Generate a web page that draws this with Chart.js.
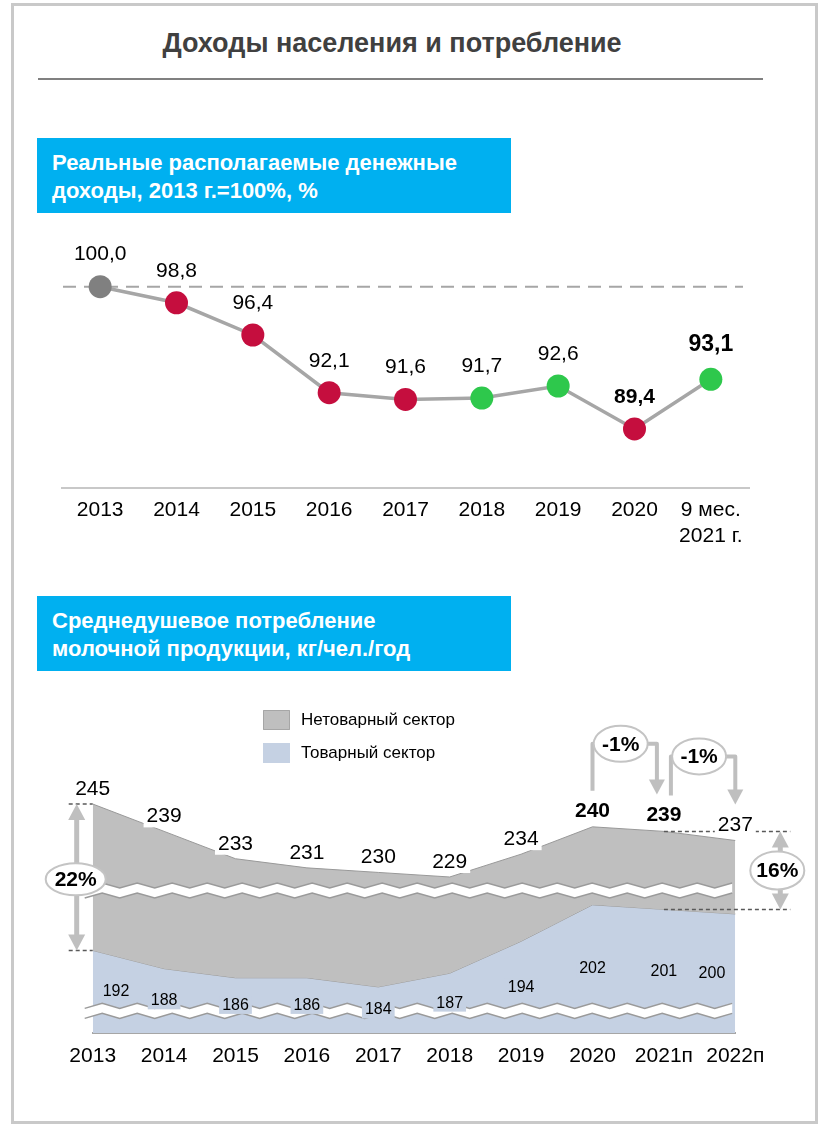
<!DOCTYPE html>
<html lang="ru">
<head>
<meta charset="utf-8">
<title>Доходы населения и потребление</title>
<script src="https://cdn.jsdelivr.net/npm/chart.js@4.4.1/dist/chart.umd.min.js"></script>
<style>
  body { margin: 0; background: #fff; font-family: 'Liberation Sans', Arial, sans-serif; }
  #page { position: relative; width: 819px; height: 1125px; overflow: hidden; }
  .frame { position: absolute; left: 11px; top: 3px; width: 801px; height: 1115px; border: 3px solid #c9c9c9; }
  .title { position: absolute; left: 0; top: 28px; width: 784px; text-align: center; font-weight: bold;
           font-size: 27px; line-height: 30px; color: #404040; }
  .rule { position: absolute; left: 38px; top: 78px; width: 725px; height: 2px; background: #808080; }
  .head { position: absolute; left: 37px; width: 459px; height: 64px; padding: 11px 0 0 15px; background: #00b0f0;
          color: #fff; font-weight: bold; font-size: 22px; line-height: 28px; }
  canvas { position: absolute; left: 0; }
</style>
</head>
<body>
<div id="page">
  <div class="frame"></div>
  <div class="title">Доходы населения и потребление</div>
  <div class="rule"></div>
  <div class="head" style="top:138px">Реальные располагаемые денежные<br>доходы, 2013 г.=100%, %</div>
  <canvas id="incomeChart" width="819" height="340" style="top:220px"></canvas>
  <div class="head" style="top:596px">Среднедушевое потребление<br>молочной продукции, кг/чел./год</div>
  <canvas id="milkChart" width="819" height="390" style="top:690px"></canvas>
</div>
<script>
const FONT = "'Liberation Sans', Arial, sans-serif";

// доходы
const incomeYears = ['2013', '2014', '2015', '2016', '2017', '2018', '2019', '2020', ['9 мес.', '2021 г.']];
const incomeValues = [100.0, 98.8, 96.4, 92.1, 91.6, 91.7, 92.6, 89.4, 93.1];
const incomeBase = 100;

// потребление молочной продукции
const milkYears = ['2013', '2014', '2015', '2016', '2017', '2018', '2019', '2020', '2021п', '2022п'];
const milkTotal = [245, 239, 233, 231, 230, 229, 234, 240, 239, 237];
const milkCommodity = [192, 188, 186, 186, 184, 187, 194, 202, 201, 200];
const shareLabels = ['22%', '16%'];
const changeLabels = ['-1%', '-1%'];

const fmt = v => v.toFixed(1).replace('.', ',');

// red = fall, green = growth, first year grey
const pointColors = incomeValues.map((v, i) =>
  i === 0 ? '#808080' : (v < incomeValues[i - 1] ? '#c50e3e' : '#2ec84c'));

// linear scale with broken (compressed) ranges
class BrokenScale extends Chart.LinearScale {
  static id = 'broken';
  static defaults = Chart.LinearScale.defaults;

  toUnits(v) {
    const p = this.options.pieces;
    for (let i = 1; i < p.length; i++) {
      if (v <= p[i][0] || i === p.length - 1) {
        const [v0, u0] = p[i - 1], [v1, u1] = p[i];
        return u0 + (v - v0) * (u1 - u0) / (v1 - v0);
      }
    }
    return 0;
  }
  getPixelForValue(value) {
    return this.getPixelForDecimal(this.toUnits(value) / this.toUnits(this.max));
  }
  getValueForPixel(pixel) {
    const u = this.getDecimalForPixel(pixel) * this.toUnits(this.max);
    const p = this.options.pieces;
    for (let i = 1; i < p.length; i++) {
      if (u <= p[i][1] || i === p.length - 1) {
        const [v0, u0] = p[i - 1], [v1, u1] = p[i];
        return v0 + (u - u0) * (v1 - v0) / (u1 - u0);
      }
    }
    return 0;
  }
}
Chart.register(BrokenScale);

const incomeDecor = {
  id: 'incomeDecor',
  beforeDatasetsDraw(chart) {
    const { ctx, chartArea, scales: { y } } = chart;
    const yy = y.getPixelForValue(incomeBase);
    ctx.save();
    ctx.setLineDash([13, 8]);
    ctx.strokeStyle = '#a6a6a6';
    ctx.lineWidth = 2;
    ctx.beginPath();
    ctx.moveTo(chartArea.left + 1, yy);
    ctx.lineTo(chartArea.right - 6, yy);
    ctx.stroke();
    ctx.restore();
  },
  afterDatasetsDraw(chart) {
    const { ctx } = chart;
    const pts = chart.getDatasetMeta(0).data;
    ctx.save();
    ctx.fillStyle = '#000';
    ctx.textAlign = 'center';
    ctx.textBaseline = 'middle';
    pts.forEach((p, i) => {
      const last = i === pts.length - 1;
      const bold = i >= pts.length - 2;
      ctx.font = (bold ? 'bold ' : '') + (last ? 23 : 21) + 'px ' + FONT;
      ctx.fillText(fmt(incomeValues[i]), p.x, p.y - (last ? 35 : 32));
    });
    ctx.restore();
  }
};

new Chart(document.getElementById('incomeChart'), {
  type: 'line',
  data: {
    labels: incomeYears,
    datasets: [{
      data: incomeValues,
      borderColor: '#a6a6a6',
      borderWidth: 3.5,
      tension: 0,
      pointRadius: 11.5,
      pointHoverRadius: 11.5,
      pointBorderWidth: 0,
      pointBackgroundColor: pointColors
    }]
  },
  options: {
    responsive: false,
    animation: false,
    events: [],
    layout: { padding: { left: 62, right: 70, top: 13, bottom: 0 } },
    plugins: { legend: { display: false }, tooltip: { enabled: false } },
    scales: {
      x: {
        offset: true,
        grid: { display: false },
        border: { color: '#c8c8c8', width: 2 },
        ticks: { color: '#000', padding: 2, autoSkip: false, maxRotation: 0,
                 font: { family: FONT, size: 21, lineHeight: 1.2 } },
        afterFit(s) { s.height = 72; }
      },
      y: { display: false, min: 85, max: 104 }
    }
  },
  plugins: [incomeDecor]
});

// helpers for the second chart
function zigzag(ctx, x0, x1, c) {
  const top = [], bot = [];
  for (let x = x0, k = 0; x <= x1 + 0.1; x += 17.5, k++) {
    const a = k % 2 === 0 ? 5 : 0;
    top.push([x, c - 8 + a]);
    bot.push([x, c + 2 + a]);
  }
  ctx.beginPath();
  top.forEach(([x, y], i) => i ? ctx.lineTo(x, y) : ctx.moveTo(x, y));
  bot.slice().reverse().forEach(([x, y]) => ctx.lineTo(x, y));
  ctx.closePath();
  ctx.fillStyle = '#fff';
  ctx.fill();
  ctx.strokeStyle = '#9a9a9a';
  ctx.lineWidth = 1.5;
  [top, bot].forEach(line => {
    ctx.beginPath();
    line.forEach(([x, y], i) => i ? ctx.lineTo(x, y) : ctx.moveTo(x, y));
    ctx.stroke();
  });
}

function boxedText(ctx, text, x, y, font, bg, h, align) {
  ctx.font = font;
  const w = ctx.measureText(text).width;
  const left = align === 'left' ? x : align === 'right' ? x - w : x - w / 2;
  if (bg) {
    ctx.fillStyle = bg;
    ctx.fillRect(left - 3, y - h / 2, w + 6, h);
  }
  ctx.fillStyle = '#000';
  ctx.textAlign = align;
  ctx.textBaseline = 'middle';
  ctx.fillText(text, x, y);
}

function dashed(ctx, x0, x1, y) {
  ctx.save();
  ctx.setLineDash([4, 3]);
  ctx.strokeStyle = '#595959';
  ctx.lineWidth = 1.5;
  ctx.beginPath();
  ctx.moveTo(x0, y);
  ctx.lineTo(x1, y);
  ctx.stroke();
  ctx.restore();
}

function arrowHead(ctx, x, tipY, hw, h, dir) {
  ctx.beginPath();
  ctx.moveTo(x, tipY);
  ctx.lineTo(x - hw, tipY + dir * h);
  ctx.lineTo(x + hw, tipY + dir * h);
  ctx.closePath();
  ctx.fill();
}

function doubleArrow(ctx, x, y0, y1) {
  ctx.strokeStyle = ctx.fillStyle = '#bfbfbf';
  ctx.lineWidth = 5;
  ctx.beginPath();
  ctx.moveTo(x, y0 + 14);
  ctx.lineTo(x, y1 - 14);
  ctx.stroke();
  arrowHead(ctx, x, y0, 8.5, 16, 1);
  arrowHead(ctx, x, y1, 8.5, 16, -1);
}

function bubble(ctx, text, cx, cy, rx, ry) {
  ctx.beginPath();
  ctx.ellipse(cx, cy, rx, ry, 0, 0, Math.PI * 2);
  ctx.fillStyle = '#fff';
  ctx.fill();
  ctx.strokeStyle = '#c4c4c4';
  ctx.lineWidth = 2;
  ctx.stroke();
  ctx.fillStyle = '#000';
  ctx.font = 'bold 21px ' + FONT;
  ctx.textAlign = 'center';
  ctx.textBaseline = 'middle';
  ctx.fillText(text, cx, cy + 1);
}

const milkDecor = {
  id: 'milkDecor',
  afterDatasetsDraw(chart) {
    const { ctx, chartArea, scales: { x, y } } = chart;
    const px = i => x.getPixelForValue(i);
    const py = v => y.getPixelForValue(v);
    const base = py(0);
    const n = milkYears.length;
    const topY = i => py(milkTotal[i]) - (i === 7 || i === 8 ? 16 : 15);
    ctx.save();

    // axis breaks
    y.options.breaks.forEach(v => zigzag(ctx, chartArea.left - 8, chartArea.right + 10, py(v)));

    // guides for the shares
    dashed(ctx, px(0) - 24, px(0), py(milkTotal[0]));
    dashed(ctx, px(0) - 24, px(0), py(milkCommodity[0]));
    dashed(ctx, px(n - 2), px(n - 1) + 55, py(milkTotal[n - 2]));
    dashed(ctx, px(n - 2), px(n - 1) + 55, py(milkCommodity[n - 2]));

    // totals
    milkTotal.forEach((v, i) => {
      const bold = i === 7 || i === 8;
      boxedText(ctx, String(v), px(i), topY(i), (bold ? 'bold ' : '') + '21px ' + FONT, '#fff', 22, 'center');
    });
    // commodity sector
    milkCommodity.forEach((v, i) => {
      const ly = (py(v) + base) / 2;
      let lx = px(i), align = 'center';
      if (i === 0) { lx += 10; align = 'left'; }
      if (i === n - 1) { lx -= 10; align = 'right'; }
      boxedText(ctx, String(v), lx, ly, '16px ' + FONT, '#c5d1e3', 17, align);
    });

    // shares
    const y0a = py(milkTotal[0]), y0b = py(milkCommodity[0]);
    doubleArrow(ctx, px(0) - 16, y0a, y0b);
    bubble(ctx, shareLabels[0], px(0) - 17, (y0a + y0b) / 2 + 2, 30, 16);
    const y1a = py(milkTotal[n - 2]), y1b = py(milkCommodity[n - 2]);
    doubleArrow(ctx, px(n - 1) + 45, y1a, y1b);
    bubble(ctx, shareLabels[1], px(n - 1) + 42, (y1a + y1b) / 2, 27, 19);

    // year-on-year changes
    changeLabels.forEach((t, k) => {
      const i = n - 3 + k;
      const xl = px(i) + (k === 1 ? 7 : 0);
      const xr = px(i + 1) - (k === 0 ? 7 : 0);
      const yb = topY(i) - (k === 0 ? 67 : 59);
      const cx = (xl + xr) / 2 - 4;
      ctx.strokeStyle = ctx.fillStyle = '#bfbfbf';
      ctx.lineWidth = 4;
      ctx.lineJoin = 'round';
      ctx.beginPath();
      ctx.moveTo(xl, topY(i) - 20);
      ctx.lineTo(xl, yb);
      ctx.lineTo(cx, yb);
      ctx.stroke();
      const tip = topY(i + 1) - 21;
      ctx.beginPath();
      ctx.moveTo(cx, yb);
      ctx.lineTo(xr, yb);
      ctx.lineTo(xr, tip - 12);
      ctx.stroke();
      arrowHead(ctx, xr, tip, 8, 15, -1);
      bubble(ctx, t, cx, yb, 27, 18);
    });

    // legend
    chart.data.datasets.forEach((ds, i) => {
      const top = 20 + i * 33;
      ctx.fillStyle = ds.backgroundColor;
      ctx.fillRect(263, top, 27, 20);
      if (i === 0) {
        ctx.strokeStyle = '#a6a6a6';
        ctx.lineWidth = 1;
        ctx.strokeRect(263.5, top + 0.5, 26, 19);
      }
      ctx.fillStyle = '#000';
      ctx.font = '17px ' + FONT;
      ctx.textAlign = 'left';
      ctx.textBaseline = 'middle';
      ctx.fillText(ds.label, 301, top + 10);
    });
    ctx.restore();
  }
};

new Chart(document.getElementById('milkChart'), {
  type: 'line',
  data: {
    labels: milkYears,
    datasets: [
      { label: 'Нетоварный сектор', data: milkTotal, fill: '+1',
        backgroundColor: '#bfbfbf', borderColor: '#999', borderWidth: 1 },
      { label: 'Товарный сектор', data: milkCommodity, fill: 'origin',
        backgroundColor: '#c5d1e3', borderColor: '#999', borderWidth: 1 }
    ]
  },
  options: {
    responsive: false,
    animation: false,
    events: [],
    elements: { point: { radius: 0 }, line: { tension: 0 } },
    layout: { padding: { left: 92.7, right: 83.7, top: 91.2, bottom: 0 } },
    plugins: { legend: { display: false }, tooltip: { enabled: false } },
    scales: {
      x: {
        offset: false,
        grid: { display: false },
        border: { color: '#a6a6a6', width: 2 },
        ticks: { color: '#000', padding: 3, autoSkip: false, maxRotation: 0,
                 font: { family: FONT, size: 21, lineHeight: 1.2 } },
        afterFit(s) { s.height = 47; }
      },
      y: {
        type: 'broken',
        display: false,
        min: 0,
        max: 250,
        pieces: [[0, 0], [180, 6.1], [204, 30.1], [227, 32.2], [250, 55.2]],
        breaks: [140, 215.5]
      }
    }
  },
  plugins: [milkDecor]
});
</script>
</body>
</html>
